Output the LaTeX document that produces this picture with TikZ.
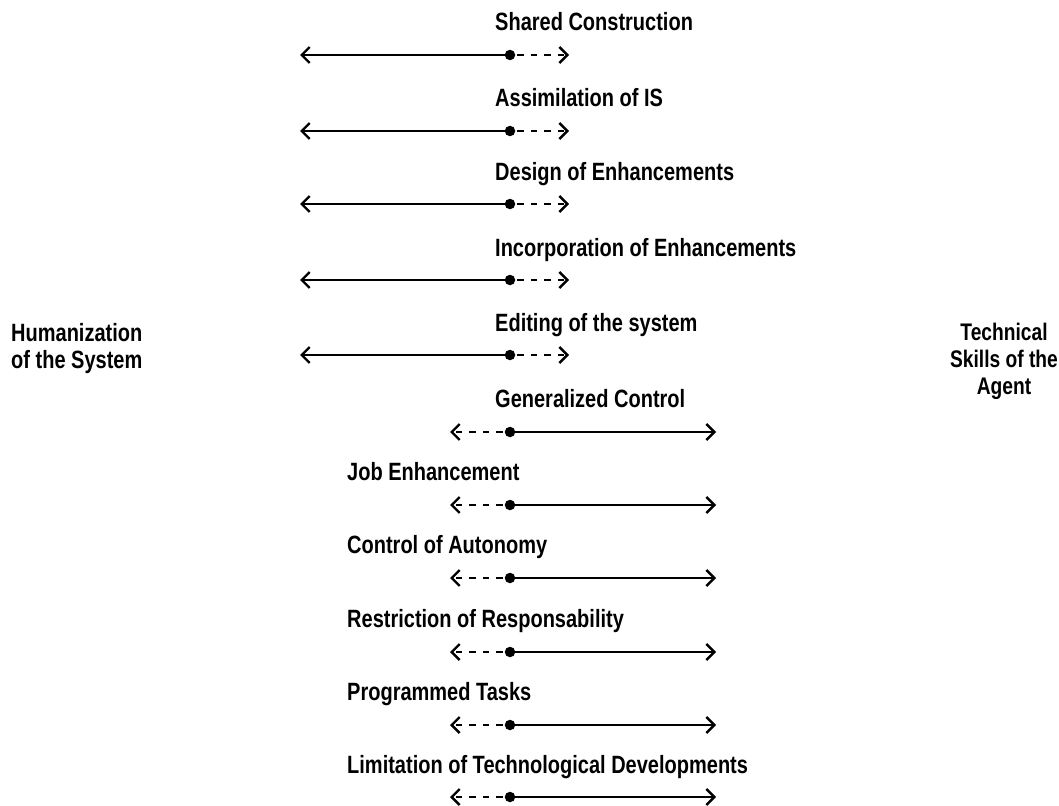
\documentclass[tikz,border=0pt]{standalone}
\usepackage{fontspec}
\setmainfont{Liberation Sans}[FakeStretch=0.8]
\usetikzlibrary{arrows.meta}
\begin{document}
\begin{tikzpicture}[x=1pt,y=-1pt,
  lbl/.style={font=\bfseries\fontsize{25}{27}\selectfont, inner sep=0pt, anchor=base west},
  side/.style={font=\bfseries\fontsize{25}{27}\selectfont, inner sep=0pt},
  tip/.style={-{Straight Barb[length=8pt,width=16pt,line width=2.4pt]}},
  solidln/.style={line width=2.4pt, tip},
  dashln/.style={line width=2.4pt, dash pattern=on 6.5pt off 7pt, shorten <=2pt, tip},
  dotc/.style={circle, fill=black, inner sep=0pt, minimum size=10.5pt}]
\useasboundingbox (0,0) rectangle (1059,805);
% upper rows
\foreach \i/\t/\ly/\ay in {1/Shared Construction/31/55, 2/Assimilation of IS/107/131, 3/Design of Enhancements/180/204, 4/Incorporation of Enhancements/256/280, 5/Editing of the system/331/355}{
  \node[lbl] (t\i) at (495,\ly) {\t};
  \node[dotc] (d\i) at (510,\ay) {};
  \coordinate (l\i) at (300,\ay);
  \coordinate (r\i) at (569,\ay);
  \draw[solidln] (d\i.center) -- (l\i);
  \draw[dashln] (d\i.east) -- (r\i);
}
% lower rows
\foreach \i/\t/\lx/\ly/\ay in {6/Generalized Control/495/407/432, 7/Job Enhancement/347/480/505, 8/Control of Autonomy/347/553/578, 9/Restriction of Responsability/347/627/652, 10/Programmed Tasks/347/700/725, 11/Limitation of Technological Developments/347/773/797}{
  \node[lbl] (t\i) at (\lx,\ly) {\t};
  \node[dotc] (d\i) at (510,\ay) {};
  \coordinate (l\i) at (450,\ay);
  \coordinate (r\i) at (716,\ay);
  \draw[solidln] (d\i.center) -- (r\i);
  \draw[dashln] (d\i.west) -- (l\i);
}
\node[side, anchor=base west, align=left] (hum) at (11,368) {Humanization\\of the System};
\node[side, anchor=base, align=center, font=\bfseries\fontsize{24}{27}\selectfont] (tech) at (1004,394) {Technical\\Skills of the\\Agent};
\end{tikzpicture}
\end{document}
